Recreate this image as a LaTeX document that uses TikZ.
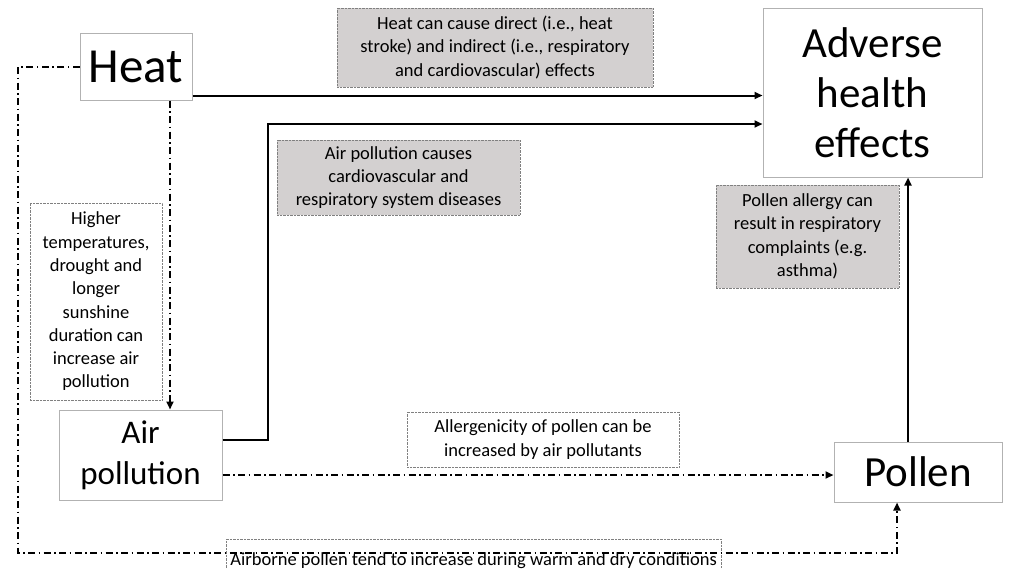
\documentclass[tikz,border=0pt]{standalone}
\usepackage{fontspec}
\setmainfont{Carlito}
\usetikzlibrary{arrows.meta}
\definecolor{notegrey}{RGB}{211,208,208}
\begin{document}
\begin{tikzpicture}[x=1pt,y=-1pt,
	big/.style={draw=gray!60,line width=1pt,fill=white,inner sep=0pt,align=center},
	note/.style={draw=gray,densely dotted,inner sep=0pt,align=center,font=\fontsize{18.5}{23.3}\selectfont},
	grey/.style={note,fill=notegrey},
	solid arrow/.style={line width=2pt,-{Triangle[length=8pt,width=7pt]}},
	dd/.style={line width=2pt,dash pattern=on 7pt off 3.5pt on 1.5pt off 3.5pt,-{Triangle[length=8pt,width=7pt]}}]
	\useasboundingbox (0,0) rectangle (1019,568);

	% main boxes
	\node[big,minimum width=112,minimum height=67,font=\fontsize{49}{50}\selectfont] at (136,66.5) (heat) {Heat};
	\node[big,minimum width=219,minimum height=169,font=\fontsize{43}{50}\selectfont] at (872.5,92.5) (adverse) {Adverse\\health\\effects};
	\node[big,minimum width=163,minimum height=90,font=\fontsize{33}{41}\selectfont] at (140.5,455) (air) {Air\\pollution};
	\node[big,minimum width=168,minimum height=60,font=\fontsize{43}{50}\selectfont] at (918,472) (pollen) {Pollen};

	% notes
	\node[grey,minimum width=316,minimum height=79] at (495,47.5) (heatnote) {Heat can cause direct (i.e., heat\\stroke) and indirect (i.e., respiratory\\and cardiovascular) effects};
	\node[grey,minimum width=243,minimum height=75] at (398.5,177.5) (airnote) {Air pollution causes\\cardiovascular and\\respiratory system diseases};
	\node[grey,minimum width=183,minimum height=103] at (807.5,236.5) (pollennote) {Pollen allergy can\\result in respiratory\\complaints (e.g.\\asthma)};
	\node[note,minimum width=132,minimum height=197] at (96,301.5) (tempnote) {Higher\\temperatures,\\drought and\\longer\\sunshine\\duration can\\increase air\\pollution};
	\node[note,minimum width=272,minimum height=55] at (543,439.5) (allergnote) {Allergenicity of pollen can be\\increased by air pollutants};
	\node[note,anchor=north west,minimum width=495,text height=26pt,text depth=10pt] at (226,539) (airbornenote) {Airborne pollen tend to increase during warm and dry conditions};

	% connectors
	\coordinate (bend) at (268,124);
	\coordinate (loop) at (18,553);
	\draw[solid arrow] ([yshift=5pt]heat.south east) -- ([yshift=5pt]heat.south east -| adverse.west);
	\draw[solid arrow] ([yshift=15pt]air.east) -| (bend) -- (bend -| adverse.west);
	\draw[solid arrow] ([xshift=-10pt]pollen.north) -- ([xshift=-10pt]pollen.north |- adverse.south);
	\draw[dd] ([xshift=34pt]heat.south) -- ([xshift=29.5pt]air.north);
	\draw[dd] ([yshift=-20pt]air.east) -- ([yshift=-20pt]air.east -| pollen.west);
	\draw[dd] (heat.west) -| (loop) -| ([xshift=-21pt]pollen.south);
\end{tikzpicture}
\end{document}
